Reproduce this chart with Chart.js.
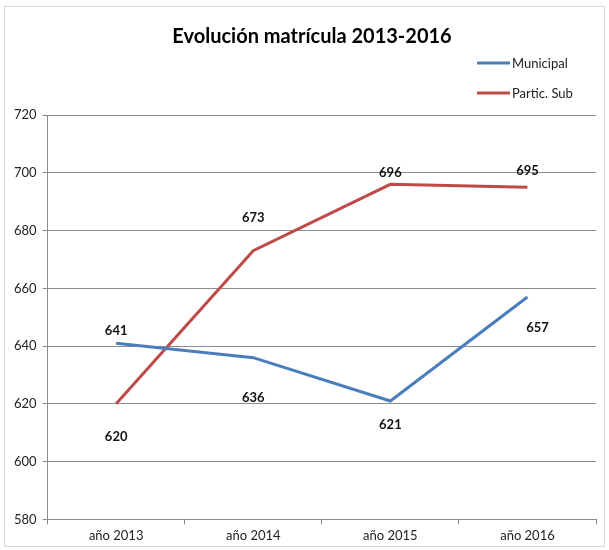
<!DOCTYPE html>
<html>
<head>
<meta charset="utf-8">
<script src="https://cdn.jsdelivr.net/npm/chart.js@4.4.0/dist/chart.umd.min.js"></script>
<style>
  body { margin: 0; background: #fff; }
  #wrap { width: 609px; height: 550px; }
</style>
</head>
<body>
<div id="wrap"><canvas id="grafico" width="609" height="550"></canvas></div>
<script>
// dati
const categorie = ['año 2013', 'año 2014', 'año 2015', 'año 2016'];
const municipal = [641, 636, 621, 657];
const particSub = [620, 673, 696, 695];
const titolo = 'Evolución matrícula 2013-2016';

// spostamento etichette (px): verticale, negativo = sopra
const offsetMunicipal = [-12, 40, 24, 31];
const offsetPartic = [33, -33, -12, -16];
const spostaX = [0, 0, 0, 10];

const FONT = 'Lato, "Open Sans", sans-serif';

// sfondo, bordo, titolo e legenda
const cornice = {
    id: 'cornice',
    beforeDraw(chart) {
        const ctx = chart.ctx;
        ctx.save();
        ctx.fillStyle = '#fff';
        ctx.fillRect(0, 0, chart.width, chart.height);
        ctx.strokeStyle = '#d9d9d9';
        ctx.lineWidth = 1;
        ctx.strokeRect(4.5, 6.5, 600, 540);

        ctx.fillStyle = '#000';
        ctx.font = 'bold 20px ' + FONT;
        ctx.textAlign = 'center';
        ctx.textBaseline = 'middle';
        ctx.fillText(titolo, 312, 37);

        // legenda verticale
        ctx.font = '13px ' + FONT;
        ctx.textAlign = 'left';
        chart.data.datasets.forEach((ds, i) => {
            const y = 63 + i * 30;
            ctx.strokeStyle = ds.borderColor;
            ctx.lineWidth = 3;
            ctx.beginPath();
            ctx.moveTo(477, y);
            ctx.lineTo(510, y);
            ctx.stroke();
            ctx.fillStyle = '#222';
            ctx.fillText(ds.label, 512, y + 1);
        });
        ctx.restore();
    },
    afterDatasetsDraw(chart) {
        const ctx = chart.ctx;
        ctx.save();
        ctx.font = 'bold 13px ' + FONT;
        ctx.fillStyle = '#111';
        ctx.textAlign = 'center';
        ctx.textBaseline = 'middle';
        chart.data.datasets.forEach((ds, i) => {
            const meta = chart.getDatasetMeta(i);
            meta.data.forEach((pt, j) => {
                const dx = i === 0 ? spostaX[j] : 0;
                ctx.fillText(ds.data[j], pt.x + dx, pt.y + ds.labelOffsets[j]);
            });
        });
        ctx.restore();
    }
};

new Chart(document.getElementById('grafico'), {
    type: 'line',
    data: {
        labels: categorie,
        datasets: [
            {
                label: 'Municipal',
                data: municipal,
                labelOffsets: offsetMunicipal,
                borderColor: '#4a7ebb',
                borderWidth: 3,
                pointRadius: 0,
                tension: 0
            },
            {
                label: 'Partic. Sub',
                data: particSub,
                labelOffsets: offsetPartic,
                borderColor: '#be4b48',
                borderWidth: 3,
                pointRadius: 0,
                tension: 0
            }
        ]
    },
    options: {
        responsive: false,
        animation: false,
        layout: {
            padding: { top: 115, right: 13, bottom: 2, left: 8 }
        },
        plugins: {
            legend: { display: false },
            tooltip: { enabled: false }
        },
        scales: {
            x: {
                offset: true,
                grid: {
                    offset: true,
                    drawOnChartArea: false,
                    tickLength: 5,
                    color: '#8c8c8c'
                },
                border: { color: '#8c8c8c' },
                ticks: {
                    color: '#222',
                    font: { family: FONT, size: 13 },
                    padding: 4,
                    maxRotation: 0
                }
            },
            y: {
                min: 580,
                max: 720,
                ticks: {
                    stepSize: 20,
                    color: '#222',
                    font: { family: FONT, size: 13 },
                    padding: 6
                },
                grid: {
                    color: '#8c8c8c',
                    tickLength: 5
                },
                border: { color: '#8c8c8c' }
            }
        }
    },
    plugins: [cornice]
});
</script>
</body>
</html>
